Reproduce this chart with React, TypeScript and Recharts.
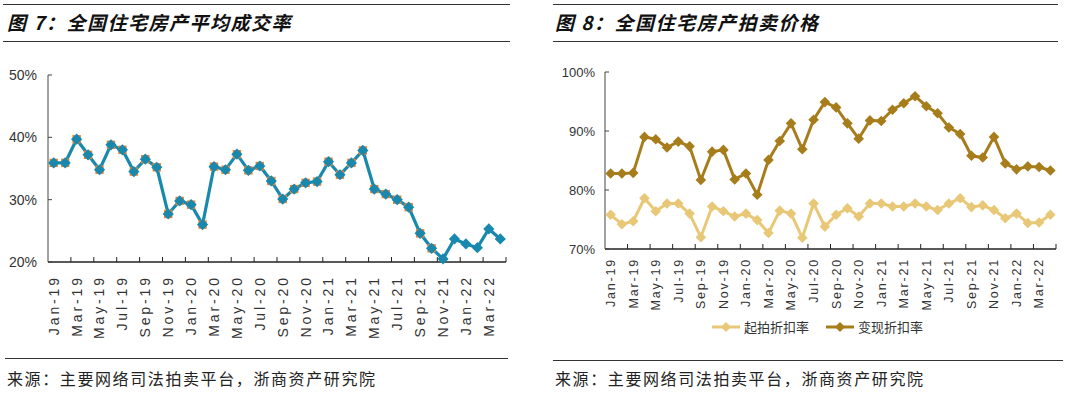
import React from "react";
import { LineChart, Line, XAxis, YAxis, Legend } from "recharts";

const months = [
  "Jan-19", "Feb-19", "Mar-19", "Apr-19", "May-19", "Jun-19", "Jul-19", "Aug-19", "Sep-19", "Oct-19", "Nov-19", "Dec-19",
  "Jan-20", "Feb-20", "Mar-20", "Apr-20", "May-20", "Jun-20", "Jul-20", "Aug-20", "Sep-20", "Oct-20", "Nov-20", "Dec-20",
  "Jan-21", "Feb-21", "Mar-21", "Apr-21", "May-21", "Jun-21", "Jul-21", "Aug-21", "Sep-21", "Oct-21", "Nov-21", "Dec-21",
  "Jan-22", "Feb-22", "Mar-22", "Apr-22",
];

// 图7 平均成交率 (%)
const dealRate = [
  35.9, 35.9, 39.7, 37.2, 34.8, 38.8, 38.0, 34.5, 36.5, 35.2, 27.7, 29.8,
  29.2, 26.0, 35.3, 34.8, 37.3, 34.7, 35.4, 33.0, 30.1, 31.7, 32.7, 32.9,
  36.1, 34.0, 35.9, 37.9, 31.7, 30.9, 30.0, 28.8, 24.6, 22.2, 20.5, 23.7,
  22.9, 22.3, 25.3, 23.7,
];

// 图8 起拍折扣率 / 变现折扣率 (%)
const startDiscount = [
  75.8, 74.2, 74.7, 78.6, 76.4, 77.7, 77.7, 76.0, 72.0, 77.2, 76.4, 75.5,
  76.0, 74.9, 72.7, 76.5, 76.0, 71.9, 77.7, 73.8, 75.8, 76.9, 75.5, 77.7,
  77.7, 77.2, 77.2, 77.7, 77.2, 76.6, 77.7, 78.6, 77.1, 77.4, 76.6, 75.2,
  76.0, 74.4, 74.5, 75.8,
];
const realizedDiscount = [
  82.8, 82.8, 82.9, 89.0, 88.6, 87.2, 88.2, 87.4, 81.7, 86.5, 86.8, 81.8,
  82.8, 79.2, 85.1, 88.3, 91.3, 86.9, 91.9, 94.9, 94.0, 91.3, 88.7, 91.8,
  91.7, 93.6, 94.7, 95.9, 94.2, 93.0, 90.6, 89.5, 85.8, 85.5, 89.0, 84.5,
  83.5, 84.0, 83.9, 83.3,
];

const rateTicks = [20, 30, 40, 50];
const discountTicks = [70, 80, 90, 100];

const leftData = months.map((m, i) => ({ month: m, rate: dealRate[i] }));
const rightData = months.map((m, i) => ({
  month: m,
  start: startDiscount[i],
  realized: realizedDiscount[i],
}));

const TEAL = "#1889ad";
const ORANGE = "#e8833a";
const LIGHT = "#e8c877";
const DARK = "#a77d1c";
const CJK = "'Noto Sans CJK SC', sans-serif";
const LATIN = "'Liberation Sans', Arial, sans-serif";

// left chart geometry
const L_W = 540, L_H = 300;
const L_MARGIN = { top: 15, right: 34, left: 8, bottom: 18 };
const L_HALF = (L_W - L_MARGIN.left - L_MARGIN.right - 40) / months.length / 2;

// right chart geometry
const R_W = 540, R_H = 300;
const R_MARGIN = { top: 12, right: 24, left: 20, bottom: 41 };
const R_HALF = (R_W - R_MARGIN.left - R_MARGIN.right - 45) / months.length / 2;

function diamond(cx: number, cy: number, r: number) {
  return `M${cx},${cy - r}L${cx + r},${cy}L${cx},${cy + r}L${cx - r},${cy}Z`;
}

const tealDot = (p: any) => {
  const { cx, cy, index } = p;
  if (cy == null) return <g key={index} />;
  return (
    <g key={index}>
      {index <= 33 && <rect x={cx - 4.2} y={cy - 4.2} width={8.4} height={8.4} fill={ORANGE} />}
      <path d={diamond(cx, cy, 5.6)} fill={TEAL} />
    </g>
  );
};

const goldDot = (color: string) => (p: any) => {
  const { cx, cy, index } = p;
  if (cy == null) return <g key={index} />;
  return <path key={index} d={diamond(cx, cy, 5.3)} fill={color} />;
};

const makeXTick =
  (half: number, gap: number, fontSize: number, spacing: number) => (props: any) => {
    const { x, y, payload } = props;
    const i = months.indexOf(payload.value);
    const ty = y + gap;
    return (
      <g>
        {i > 0 && <line x1={x - half} x2={x - half} y1={y} y2={y - 5} stroke="#222" strokeWidth={1} />}
        {i + 2 >= months.length && (
          <line x1={x + 3 * half} x2={x + 3 * half} y1={y} y2={y - 5} stroke="#222" strokeWidth={1} />
        )}
        <text
          x={x}
          y={ty}
          dy="0.35em"
          transform={`rotate(-90 ${x} ${ty})`}
          textAnchor="end"
          fill="#333"
          fontSize={fontSize}
          letterSpacing={spacing}
          fontFamily={LATIN}
        >
          {payload.value}
        </text>
      </g>
    );
  };

const makeYTick = (gap: number, fontSize: number, family: string) => (props: any) => {
  const { x, y, payload } = props;
  return (
    <g>
      <line x1={x} x2={x + 4} y1={y} y2={y} stroke="#444" strokeWidth={1} />
      <text x={x - gap} y={y} dy="0.35em" textAnchor="end" fill="#333" fontSize={fontSize} fontFamily={family}>
        {payload.value}%
      </text>
    </g>
  );
};

const legendItems = [
  { name: "起拍折扣率", color: LIGHT },
  { name: "变现折扣率", color: DARK },
];

const renderLegend = () => (
  <div style={{ display: "flex", alignItems: "center", fontFamily: CJK, fontSize: 13, color: "#333" }}>
    {legendItems.map((it) => (
      <div key={it.name} style={{ display: "flex", alignItems: "center", marginRight: 17 }}>
        <svg width={28} height={12}>
          <line x1={0} x2={28} y1={6} y2={6} stroke={it.color} strokeWidth={3} />
          <path d={diamond(14, 6, 5)} fill={it.color} />
        </svg>
        <span style={{ marginLeft: 4 }}>{it.name}</span>
      </div>
    ))}
  </div>
);

const rule = (left: number, top: number, width: number) => (
  <div style={{ position: "absolute", left, top, width, height: 1, background: "#333" }} />
);

const titleStyle: React.CSSProperties = {
  position: "absolute",
  top: 10,
  fontFamily: CJK,
  fontWeight: 700,
  fontStyle: "italic",
  fontSize: 19,
  letterSpacing: 1.5,
  color: "#111",
  lineHeight: "24px",
  whiteSpace: "nowrap",
};

const sourceStyle: React.CSSProperties = {
  position: "absolute",
  top: 368,
  fontFamily: CJK,
  fontSize: 16,
  letterSpacing: 1.6,
  color: "#222",
  lineHeight: "20px",
  whiteSpace: "nowrap",
};

export default function App() {
  return (
    <div style={{ position: "absolute", left: 0, top: 0, width: 1080, height: 394, background: "#fff", overflow: "hidden" }}>
      {rule(3, 4, 507)}
      {rule(3, 41, 507)}
      {rule(553, 4, 505)}
      {rule(553, 41, 505)}
      <div style={{ ...titleStyle, left: 7 }}>图 7：全国住宅房产平均成交率</div>
      <div style={{ ...titleStyle, left: 555 }}>图 8：全国住宅房产拍卖价格</div>

      <div style={{ position: "absolute", left: 0, top: 60 }}>
        <LineChart width={L_W} height={L_H} data={leftData} margin={L_MARGIN}>
          <XAxis
            dataKey="month"
            interval={1}
            height={80}
            tickSize={0}
            tickMargin={0}
            tickLine={false}
            axisLine={{ stroke: "#222", strokeWidth: 1.5 }}
            padding={{ left: L_HALF, right: L_HALF }}
            tick={makeXTick(L_HALF, 13, 14, 2.9)}
          />
          <YAxis
            width={40}
            domain={[20, 50]}
            ticks={rateTicks}
            tickSize={0}
            tickMargin={0}
            tickLine={false}
            axisLine={{ stroke: "#444", strokeWidth: 1 }}
            tick={makeYTick(11, 14, "'Liberation Sans Narrow', 'Liberation Sans', Arial, sans-serif")}
          />
          <Line
            dataKey="rate"
            stroke={TEAL}
            strokeWidth={3.2}
            dot={tealDot}
            activeDot={false}
            isAnimationActive={false}
          />
        </LineChart>
      </div>

      <div style={{ position: "absolute", left: 540, top: 60 }}>
        <LineChart width={R_W} height={R_H} data={rightData} margin={R_MARGIN}>
          <XAxis
            dataKey="month"
            interval={1}
            height={70}
            tickSize={0}
            tickMargin={0}
            tickLine={false}
            axisLine={{ stroke: "#222", strokeWidth: 1.5 }}
            padding={{ left: R_HALF, right: R_HALF }}
            tick={makeXTick(R_HALF, 9, 12.5, 1.8)}
          />
          <YAxis
            width={45}
            domain={[70, 100]}
            ticks={discountTicks}
            tickSize={0}
            tickMargin={0}
            tickLine={false}
            axisLine={{ stroke: "#444", strokeWidth: 1 }}
            tick={makeYTick(10, 13, LATIN)}
          />
          <Line
            dataKey="start"
            name="起拍折扣率"
            stroke={LIGHT}
            strokeWidth={3}
            dot={goldDot(LIGHT)}
            activeDot={false}
            isAnimationActive={false}
          />
          <Line
            dataKey="realized"
            name="变现折扣率"
            stroke={DARK}
            strokeWidth={3}
            dot={goldDot(DARK)}
            activeDot={false}
            isAnimationActive={false}
          />
          <Legend
            layout="horizontal"
            align="center"
            verticalAlign="middle"
            content={renderLegend}
            wrapperStyle={{ left: 172, top: 257, width: "auto" }}
          />
        </LineChart>
      </div>

      {rule(5, 358, 503)}
      {rule(553, 360, 510)}
      <div style={{ ...sourceStyle, left: 7 }}>来源：主要网络司法拍卖平台，浙商资产研究院</div>
      <div style={{ ...sourceStyle, left: 555 }}>来源：主要网络司法拍卖平台，浙商资产研究院</div>
    </div>
  );
}
